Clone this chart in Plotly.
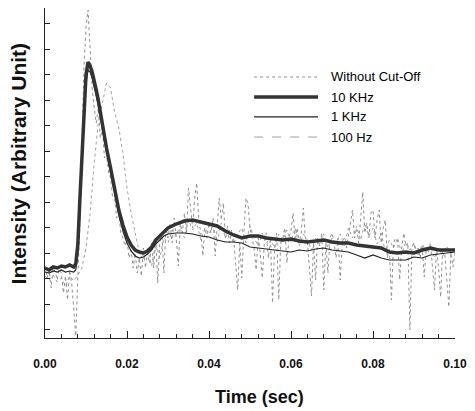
import plotly.graph_objects as go

# ---------------- data ----------------
# raw signal, sampled every 0.0005 s
T_RAW = [round(k * 0.0005, 4) for k in range(201)]
RAW = [72, 60, 68, 50, 70, 66, 58, 72, 64, 45, 62, 38, 68, 55, 30, 2, 60, 110, 190, 270,
       310, 328, 290, 250, 230, 215, 230, 200, 210, 180, 185, 165, 160, 140, 138, 120, 125, 105, 100, 92,
       98, 80, 88, 70, 85, 65, 80, 62, 90, 70, 85, 75, 95, 70, 100, 55, 95, 105, 65, 110,
       100, 115, 95, 120, 100, 72, 115, 105, 125, 105, 150, 130, 110, 140, 155, 118, 105, 82, 110, 100,
       115, 105, 120, 82, 110, 140, 118, 135, 100, 112, 95, 108, 100, 70, 48, 95, 60, 105, 140, 135,
       110, 100, 90, 68, 100, 85, 60, 95, 105, 80, 100, 35, 90, 105, 38, 95, 100, 110, 75, 100,
       108, 125, 100, 110, 95, 105, 130, 100, 95, 70, 42, 95, 58, 100, 92, 105, 48, 95, 65, 100,
       105, 95, 80, 100, 58, 95, 100, 90, 105, 115, 128, 100, 110, 95, 120, 146, 105, 115, 100, 125,
       128, 100, 118, 128, 95, 110, 118, 80, 90, 38, 95, 100, 98, 58, 90, 105, 92, 95, 8, 90,
       95, 85, 90, 80, 92, 61, 90, 85, 95, 75, 48, 90, 70, 41, 90, 85, 60, 31, 85, 71, 85]

# 100 Hz filtered, sampled every 0.001 s
T_100 = [round(k * 0.001, 3) for k in range(101)]
HZ100 = [62, 58, 63, 56, 60, 52, 62, 57, 63, 70, 90, 125, 175, 215, 235, 255, 250, 225, 210, 185,
         150, 125, 105, 85, 78, 90, 72, 95, 80, 100, 95, 108, 102, 112, 100, 118, 108, 115, 98, 110,
         104, 112, 96, 115, 100, 108, 94, 104, 110, 95, 112, 100, 92, 105, 95, 100, 90, 104, 98, 108,
         96, 110, 92, 104, 98, 88, 100, 94, 104, 90, 100, 95, 104, 92, 110, 100, 112, 98, 115, 102,
         110, 94, 105, 86, 98, 90, 100, 84, 96, 88, 95, 82, 94, 86, 92, 80, 90, 82, 92, 84, 90]

# 10 KHz and 1 KHz filtered
T_FILT = [0.0, 0.001, 0.002, 0.003, 0.004, 0.005, 0.006, 0.007,
          0.0075, 0.008, 0.0085, 0.009, 0.0095, 0.010, 0.0105, 0.011, 0.0115, 0.012, 0.0125, 0.013,
          0.014, 0.015, 0.016, 0.017, 0.018, 0.019, 0.020, 0.021, 0.022, 0.023, 0.024, 0.025,
          0.026, 0.027, 0.028, 0.029, 0.030,
          0.032, 0.034, 0.036, 0.038, 0.040, 0.042, 0.044, 0.046, 0.048, 0.050, 0.052, 0.054,
          0.056, 0.058, 0.060, 0.062, 0.064, 0.066, 0.068, 0.070, 0.072, 0.074, 0.076, 0.078,
          0.080, 0.082, 0.084, 0.086, 0.088, 0.090, 0.092, 0.094, 0.096, 0.098, 0.100]
KHZ10 = [70, 68, 71, 70, 72, 71, 73, 71,
         74, 93, 138, 178, 223, 263, 276, 272, 266, 258, 248, 238,
         213, 190, 170, 148, 128, 113, 101, 93, 88, 86, 85, 87, 91, 98, 102, 106, 110,
         114, 117, 118, 116, 114, 112, 107, 103, 100, 102, 102, 100, 99, 98, 99, 97, 96, 97,
         98, 96, 95, 95, 93, 92, 91, 90, 86, 85, 86, 85, 88, 90, 88, 88, 88]
KHZ1 = [66, 65, 67, 66, 68, 66, 67, 66,
        68, 85, 128, 170, 215, 255, 268, 266, 260, 252, 242, 232,
        208, 186, 165, 143, 123, 107, 95, 87, 82, 80, 81, 84, 88, 94, 98, 102, 104,
        105, 105, 104, 102, 101, 98, 96, 96, 95, 91, 90, 89, 88, 87, 86, 88, 87, 89,
        90, 88, 87, 86, 83, 80, 83, 80, 78, 78, 78, 81, 80, 83, 84, 85, 86]

SERIES = ["Without Cut-Off", "10 KHz", "1 KHz", "100 Hz"]
X_TICKS = [0.0, 0.02, 0.04, 0.06, 0.08, 0.10]

# ---------------- figure ----------------
FONT = "Liberation Sans, Arial, sans-serif"
fig = go.Figure()

fig.add_trace(go.Scatter(x=T_100, y=HZ100, mode="lines", name=SERIES[3],
                         line=dict(color="#a0a0a0", width=1, dash="dot")))
fig.add_trace(go.Scatter(x=T_RAW, y=RAW, mode="lines", name=SERIES[0],
                         line=dict(color="#909090", width=1, dash="dot")))
fig.add_trace(go.Scatter(x=T_FILT, y=KHZ1, mode="lines", name=SERIES[2],
                         line=dict(color="#222222", width=1.2)))
fig.add_trace(go.Scatter(x=T_FILT, y=KHZ10, mode="lines", name=SERIES[1],
                         line=dict(color="#333333", width=3.5)))

L, R, T, B = 45, 14, 8, 73
fig.update_layout(
    width=475, height=411,
    margin=dict(l=L, r=R, t=T, b=B),
    paper_bgcolor="white", plot_bgcolor="white",
    showlegend=False,
    font=dict(family=FONT, color="#111"),
    xaxis=dict(range=[0, 0.1], tickvals=X_TICKS, tickformat=".2f",
               ticks="inside", ticklen=7, tickcolor="#222", tickwidth=1,
               minor=dict(dtick=0.004, ticks="inside", ticklen=4, tickcolor="#222"),
               showline=True, linecolor="#222", linewidth=1.2,
               showgrid=False, zeroline=False,
               tickfont=dict(family=FONT, size=12, color="#111", weight="bold"),
               ticklabelstandoff=14),
    yaxis=dict(range=[0, 330], tick0=8.5, dtick=25.5, showticklabels=False,
               ticks="inside", ticklen=5, tickcolor="#222",
               showline=True, linecolor="#222", linewidth=1.2,
               showgrid=False, zeroline=False),
)

# axis titles
fig.add_annotation(text="<b>Time (sec)</b>", xref="paper", yref="paper",
                   x=0.524, y=-0.18, yanchor="middle", showarrow=False,
                   font=dict(family=FONT, size=18, color="#111"))
fig.add_annotation(text="<b>Intensity (Arbitrary Unit)</b>", xref="paper", yref="paper",
                   x=-0.065, y=0.53, textangle=-90, showarrow=False,
                   xanchor="center", yanchor="middle",
                   font=dict(family=FONT, size=21, color="#111"))

# manual legend
leg_styles = [dict(color="#909090", width=1, dash="dot"),
              dict(color="#333333", width=3.5),
              dict(color="#222222", width=1.2),
              dict(color="#a0a0a0", width=1, dash="dash")]
leg_y = [0.791, 0.730, 0.670, 0.609]
for name, st, yy in zip(SERIES, leg_styles, leg_y):
    fig.add_shape(type="line", xref="paper", yref="paper",
                  x0=0.51, x1=0.666, y0=yy, y1=yy, line=st)
    fig.add_annotation(text=name, xref="paper", yref="paper", x=0.692, y=yy,
                       xanchor="left", yanchor="middle", showarrow=False,
                       font=dict(family=FONT, size=13, color="#000"))

fig.write_html("out.html",
               config={"displayModeBar": False},
               post_script="document.body.style.margin='0';document.body.style.overflow='hidden';")
